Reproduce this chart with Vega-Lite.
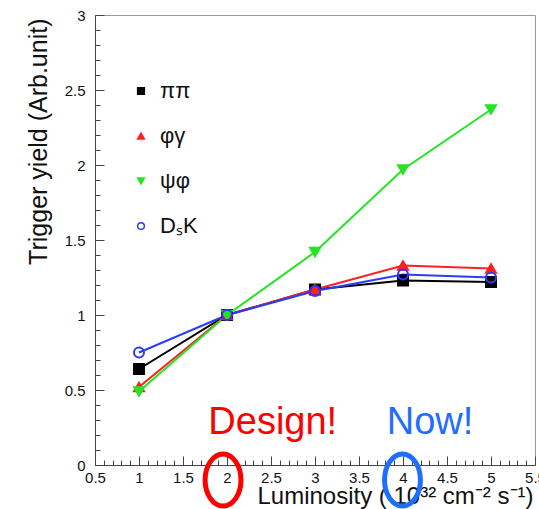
{
  "$schema": "https://vega.github.io/schema/vega-lite/v6.json",
  "width": 440,
  "height": 450,
  "autosize": {"type": "none"},
  "padding": {"left": 95, "top": 15, "right": 4, "bottom": 44},
  "background": "white",
  "config": {
    "font": "Liberation Sans",
    "view": {"stroke": "#999", "strokeWidth": 1},
    "axis": {
      "grid": false,
      "domainColor": "#444",
      "tickColor": "#444",
      "labelColor": "#111",
      "titleColor": "#111",
      "labelFont": "Liberation Sans",
      "titleFont": "Liberation Sans",
      "titleFontWeight": "normal",
      "labelFontSize": 15,
      "labelFlush": false,
      "labelOverlap": false,
      "labelBound": false
    }
  },
  "datasets": {
    "series": [
      {"series": "ππ", "lum": 1, "yield": 0.64},
      {"series": "ππ", "lum": 2, "yield": 1.0},
      {"series": "ππ", "lum": 3, "yield": 1.17},
      {"series": "ππ", "lum": 4, "yield": 1.23},
      {"series": "ππ", "lum": 5, "yield": 1.22},
      {"series": "φγ", "lum": 1, "yield": 0.52},
      {"series": "φγ", "lum": 2, "yield": 1.0},
      {"series": "φγ", "lum": 3, "yield": 1.17},
      {"series": "φγ", "lum": 4, "yield": 1.33},
      {"series": "φγ", "lum": 5, "yield": 1.31},
      {"series": "ψφ", "lum": 1, "yield": 0.49},
      {"series": "ψφ", "lum": 2, "yield": 1.0},
      {"series": "ψφ", "lum": 3, "yield": 1.42},
      {"series": "ψφ", "lum": 4, "yield": 1.97},
      {"series": "ψφ", "lum": 5, "yield": 2.37},
      {"series": "DₛK", "lum": 1, "yield": 0.75},
      {"series": "DₛK", "lum": 2, "yield": 1.0},
      {"series": "DₛK", "lum": 3, "yield": 1.16},
      {"series": "DₛK", "lum": 4, "yield": 1.27},
      {"series": "DₛK", "lum": 5, "yield": 1.25}
    ],
    "design": [{"label": "Design!", "lum": 2.52, "yield": 0.207}],
    "now": [{"label": "Now!", "lum": 4.307, "yield": 0.207}],
    "designMark": [{"lum": 1.955, "yield": -0.1}],
    "nowMark": [{"lum": 3.994, "yield": -0.1}]
  },
  "encoding": {
    "x": {
      "field": "lum",
      "type": "quantitative",
      "scale": {"domain": [0.5, 5.5], "nice": false, "zero": false},
      "axis": {
        "title": "Luminosity ( 10³² cm⁻² s⁻¹)",
        "titleFontSize": 24,
        "titleAnchor": "end",
        "titleAlign": "right",
        "titleBaseline": "alphabetic",
        "titleX": 438,
        "titleY": 38,
        "values": [0.5, 0.6, 0.7, 0.8, 0.9, 1, 1.1, 1.2, 1.3, 1.4, 1.5, 1.6, 1.7, 1.8, 1.9, 2, 2.1, 2.2, 2.3, 2.4, 2.5, 2.6, 2.7, 2.8, 2.9, 3, 3.1, 3.2, 3.3, 3.4, 3.5, 3.6, 3.7, 3.8, 3.9, 4, 4.1, 4.2, 4.3, 4.4, 4.5, 4.6, 4.7, 4.8, 4.9, 5, 5.1, 5.2, 5.3, 5.4, 5.5],
        "labelExpr": "abs(datum.value*2 - round(datum.value*2)) < 0.001 ? format(datum.value, '~g') : ''",
        "tickSize": {"condition": {"test": "abs(datum.value*2 - round(datum.value*2)) < 0.001", "value": -9}, "value": -5},
        "labelPadding": 14
      }
    },
    "y": {
      "field": "yield",
      "type": "quantitative",
      "scale": {"domain": [0, 3], "nice": false, "zero": false},
      "axis": {
        "title": "Trigger yield (Arb.unit)",
        "titleFontSize": 25,
        "titleAngle": -90,
        "titleAnchor": "end",
        "titleAlign": "right",
        "titleBaseline": "middle",
        "titleX": -57,
        "titleY": 3,
        "values": [0, 0.1, 0.2, 0.3, 0.4, 0.5, 0.6, 0.7, 0.8, 0.9, 1, 1.1, 1.2, 1.3, 1.4, 1.5, 1.6, 1.7, 1.8, 1.9, 2, 2.1, 2.2, 2.3, 2.4, 2.5, 2.6, 2.7, 2.8, 2.9, 3],
        "labelExpr": "abs(datum.value*2 - round(datum.value*2)) < 0.001 ? format(datum.value, '~g') : ''",
        "tickSize": {"condition": {"test": "abs(datum.value*2 - round(datum.value*2)) < 0.001", "value": -9}, "value": -5},
        "labelPadding": 19
      }
    }
  },
  "layer": [
    {
      "data": {"name": "series"},
      "mark": {"type": "line", "strokeWidth": 2},
      "encoding": {
        "color": {
          "field": "series",
          "type": "nominal",
          "title": "lines",
          "scale": {"domain": ["DₛK", "ψφ", "φγ", "ππ"], "range": ["#2a3cff", "#22e622", "#ff2020", "#000000"]},
          "legend": null
        }
      }
    },
    {
      "data": {"name": "series"},
      "mark": {"type": "point", "size": 100, "strokeWidth": 2, "opacity": 1},
      "encoding": {
        "shape": {
          "field": "series",
          "type": "nominal",
          "scale": {"domain": ["ππ", "φγ", "ψφ", "DₛK"], "range": ["square", "triangle-up", "triangle-down", "circle"]},
          "legend": {"title": null, "orient": "none", "legendX": 35, "legendY": 65, "labelFontSize": 22, "rowPadding": 23, "symbolSize": 45, "symbolStrokeWidth": 1.5, "labelOffset": 8, "padding": 0, "labelColor": "#111"}
        },
        "fill": {
          "field": "series",
          "type": "nominal",
          "scale": {"domain": ["ππ", "φγ", "ψφ", "DₛK"], "range": ["#000000", "#ff2020", "#22e622", "transparent"]},
          "legend": {"title": null, "orient": "none", "legendX": 35, "legendY": 65, "labelFontSize": 22, "rowPadding": 23, "symbolSize": 45, "symbolStrokeWidth": 1.5, "labelOffset": 8, "padding": 0, "labelColor": "#111"}
        },
        "stroke": {
          "field": "series",
          "type": "nominal",
          "scale": {"domain": ["ππ", "φγ", "ψφ", "DₛK"], "range": ["#000000", "#ff2020", "#22e622", "#2a3cff"]},
          "legend": {"title": null, "orient": "none", "legendX": 35, "legendY": 65, "labelFontSize": 22, "rowPadding": 23, "symbolSize": 45, "symbolStrokeWidth": 1.5, "labelOffset": 8, "padding": 0, "labelColor": "#111"}
        }
      }
    },
    {
      "data": {"name": "design"},
      "mark": {"type": "text", "color": "#ff0000", "fontSize": 38, "align": "center", "baseline": "alphabetic", "font": "Liberation Sans"},
      "encoding": {"text": {"field": "label"}}
    },
    {
      "data": {"name": "now"},
      "mark": {"type": "text", "color": "#1f6fff", "fontSize": 38, "align": "center", "baseline": "alphabetic", "font": "Liberation Sans"},
      "encoding": {"text": {"field": "label"}}
    },
    {
      "data": {"name": "designMark"},
      "mark": {"type": "point", "shape": "M -0.69 0 A 0.69 1 0 1 0 0.69 0 A 0.69 1 0 1 0 -0.69 0 Z", "size": 2704, "filled": false, "stroke": "#ff0000", "strokeWidth": 5, "opacity": 1}
    },
    {
      "data": {"name": "nowMark"},
      "mark": {"type": "point", "shape": "M -0.69 0 A 0.69 1 0 1 0 0.69 0 A 0.69 1 0 1 0 -0.69 0 Z", "size": 2704, "filled": false, "stroke": "#1f6fff", "strokeWidth": 5, "opacity": 1}
    }
  ]
}
